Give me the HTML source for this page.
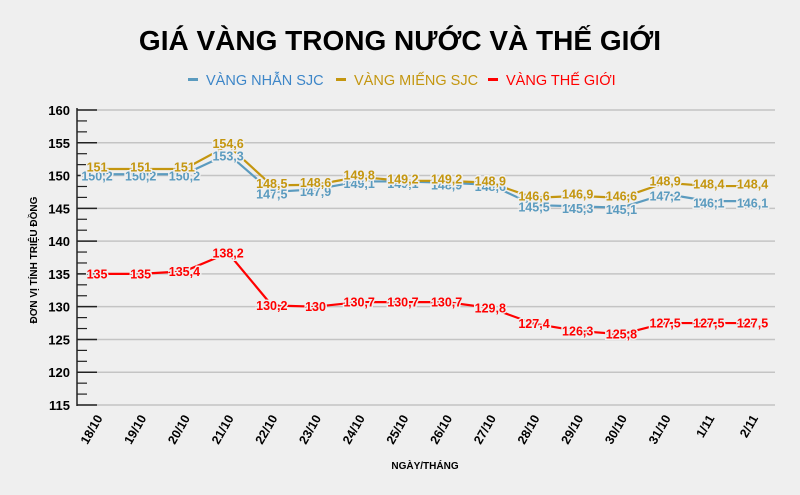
<!DOCTYPE html>
<html><head><meta charset="utf-8"><style>
body{margin:0;background:#efefef;}
svg{display:block;font-family:"Liberation Sans",Arial,sans-serif;}
</style></head><body>
<svg width="800" height="495" viewBox="0 0 800 495">
<rect width="800" height="495" fill="#efefef"/>
<text x="400" y="50" text-anchor="middle" font-size="28" font-weight="bold" fill="#000">GIÁ VÀNG TRONG NƯỚC VÀ THẾ GIỚI</text>
<g font-size="14.5">
<rect x="188" y="78" width="10" height="3" fill="#5b9bbf"/><text x="206" y="85" fill="#3d86c8">VÀNG NHẪN SJC</text>
<rect x="336" y="78" width="10" height="3" fill="#c4960f"/><text x="354" y="85" fill="#c4960f">VÀNG MIẾNG SJC</text>
<rect x="488" y="78" width="10" height="3" fill="#ff0000"/><text x="506" y="85" fill="#ff0000">VÀNG THẾ GIỚI</text>
</g>
<g id="grid"></g>
<line x1="77" y1="108" x2="77" y2="406" stroke="#222" stroke-width="1.5"/>
<text transform="translate(37,260) rotate(-90)" text-anchor="middle" font-size="10" font-weight="bold">ĐƠN VỊ TÍNH TRIỆU ĐỒNG</text>
<text x="425" y="469" text-anchor="middle" font-size="10" font-weight="bold">NGÀY/THÁNG</text>
<g id="series"></g>
<script>
var NS="http://www.w3.org/2000/svg";
function Y(v){return 110+(160-v)*6.556;}
function X(i){return 97+i*43.7;}
function el(t,a,p,txt){var e=document.createElementNS(NS,t);for(var k in a)e.setAttribute(k,a[k]);if(txt!=null)e.textContent=txt;p.appendChild(e);return e;}
var g=document.getElementById('grid');
for(var v=115;v<=160;v+=5){var y=Y(v);
 el('line',{x1:77,y1:y,x2:775,y2:y,stroke:'#c4c4c4','stroke-width':1.5},g);
 el('line',{x1:77,y1:y,x2:97,y2:y,stroke:'#222','stroke-width':1.5},g);
 el('text',{x:70,y:y+5,'text-anchor':'end','font-size':13,'font-weight':'bold'},g,String(v));
 if(v<160){for(var m=1;m<3;m++){var ym=Y(v+m*5/3);el('line',{x1:77,y1:ym,x2:87,y2:ym,stroke:'#222','stroke-width':1.2},g);}}
}
var dates=["18/10","19/10","20/10","21/10","22/10","23/10","24/10","25/10","26/10","27/10","28/10","29/10","30/10","31/10","1/11","2/11"];
dates.forEach(function(d,i){el('text',{transform:'translate('+(X(i)+6)+',418) rotate(-60)','text-anchor':'end','font-size':12.5,'font-weight':'bold'},g,d);});
var S=[
 {c:'#5b9bbf',d:[150.2,150.2,150.2,153.3,147.5,147.9,149.1,149.1,148.9,148.6,145.5,145.3,145.1,147.2,146.1,146.1],dy:2},
 {c:'#c4960f',d:[151,151,151,154.6,148.5,148.6,149.8,149.2,149.2,148.9,146.6,146.9,146.6,148.9,148.4,148.4],dy:-2},
 {c:'#ff0000',d:[135,135,135.4,138.2,130.2,130,130.7,130.7,130.7,129.8,127.4,126.3,125.8,127.5,127.5,127.5],dy:0}
];
var s=document.getElementById('series');
S.forEach(function(o){
 var pts=o.d.map(function(v,i){return X(i)+','+Y(v);}).join(' ');
 el('polyline',{points:pts,fill:'none',stroke:o.c,'stroke-width':2.2},s);
});
S.forEach(function(o){
 o.d.forEach(function(v,i){
  el('text',{x:X(i),y:Y(v)+4.5+o.dy,'text-anchor':'middle','font-size':12.5,'font-weight':'bold',fill:o.c,stroke:'#efefef','stroke-width':3,'paint-order':'stroke'},s,String(v).replace('.',','));
 });
});
</script>
</svg>
</body></html>
